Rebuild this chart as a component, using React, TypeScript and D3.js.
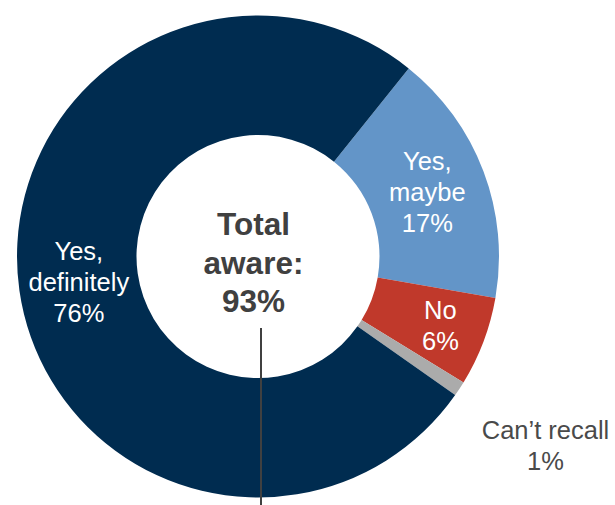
import React from "react";
import * as d3 from "d3";

const categories = ["Yes, maybe", "No", "Can\u2019t recall", "Yes, definitely"];
const values = [17, 6, 1, 76];
const labelLines = [["Yes,", "maybe", "17%"], ["No", "6%"], ["Can\u2019t recall", "1%"], ["Yes,", "definitely", "76%"]];
const centerLines = ["Total", "aware:", "93%"];

const colors = ["#6395C8", "#C0392B", "#ABABAB", "#002C50"];
const labelColors = ["#ffffff", "#ffffff", "#4a4a4a", "#ffffff"];
const labelRadius = [181, 195, 344, 181];

export default function App() {
  const W = 615, H = 505;
  const cx = 258, cy = 256.5, R = 241, r = 121.5;
  const start = (38.7 * Math.PI) / 180;
  const pie = d3.pie<number>().sort(null).value((d) => d).startAngle(start).endAngle(start + 2 * Math.PI);
  const arcs = pie(values);
  const arc = d3.arc<d3.PieArcDatum<number>>().innerRadius(r).outerRadius(R);
  const fs = 25.5, lh = 31;
  const cfs = 31.5, clh = 38.5;
  return (
    <svg width={W} height={H} style={{ position: "absolute", left: 0, top: 0 }} fontFamily="'Liberation Sans', Arial, sans-serif">
      <g transform={`translate(${cx},${cy})`}>
        {arcs.map((a, i) => (
          <path key={categories[i]} d={arc(a) || ""} fill={colors[i]} />
        ))}
        {arcs.map((a, i) => {
          const lr = labelRadius[i];
          const [x, y] = d3.arc<d3.PieArcDatum<number>>().innerRadius(lr).outerRadius(lr).centroid(a);
          const lines = labelLines[i];
          const y0 = y - ((lines.length - 1) / 2) * lh + fs * 0.35;
          return (
            <text key={"l" + i} textAnchor="middle" fontSize={fs} fill={labelColors[i]}>
              {lines.map((t, j) => (
                <tspan key={j} x={x} y={y0 + j * lh}>{t}</tspan>
              ))}
            </text>
          );
        })}
      </g>
      <line x1={261} x2={261} y1={328} y2={505} stroke="#404040" strokeWidth={2} />
      <text textAnchor="middle" fontSize={cfs} fontWeight="bold" fill="#404040">
        {centerLines.map((t, j) => (
          <tspan key={j} x={253.5} y={235 + j * clh}>{t}</tspan>
        ))}
      </text>
    </svg>
  );
}
